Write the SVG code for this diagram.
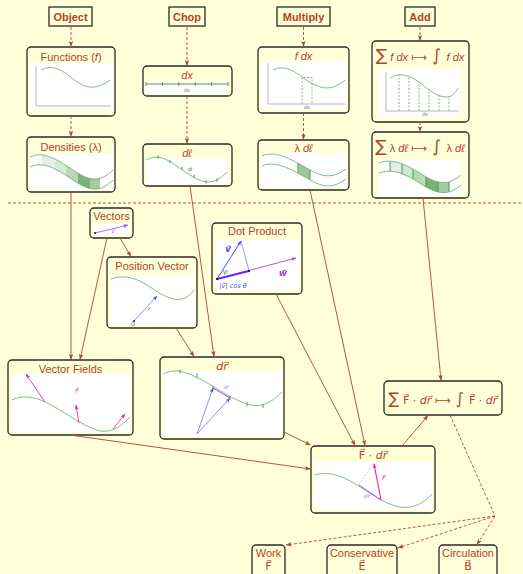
<svg xmlns="http://www.w3.org/2000/svg" width="523" height="574" viewBox="0 0 523 574">
<defs>
<style>
.t{fill:#b5412f;font-family:"Liberation Sans",Arial,sans-serif;font-size:11px;text-anchor:middle}
.h{fill:#b5412f;font-family:"Liberation Sans",Arial,sans-serif;font-size:11px;font-weight:bold;text-anchor:middle}
.m{font-family:"DejaVu Sans",sans-serif}
.v{font-family:"DejaVu Sans",sans-serif}
.hb{fill:#ffffd8;stroke:#2a2a2a;stroke-width:1.3}
.nb{fill:#ffffd8;stroke:#2a2a2a;stroke-width:1.3}
.w{fill:#ffffff}
.g{fill:none;stroke:#6aa86a;stroke-width:0.8}
.gd{fill:none;stroke:#3f8f3f;stroke-width:0.9}
.ax{fill:none;stroke:#b8b8b8;stroke-width:1}
.c{fill:none;stroke:#b5412f;stroke-width:0.9}
.cd{fill:none;stroke:#b5412f;stroke-width:0.9;stroke-dasharray:3 2}
.tiny{fill:#777;font-family:"DejaVu Sans",sans-serif;font-style:italic;font-size:5px;text-anchor:middle}
</style>
<marker id="ah" viewBox="0 0 8 6" refX="7.5" refY="3" markerWidth="6" markerHeight="4.5" orient="auto" markerUnits="userSpaceOnUse"><path d="M0,0 L8,3 L0,6 L2,3 z" fill="#b5412f"/></marker>
<marker id="ab" viewBox="0 0 8 6" refX="7.5" refY="3" markerWidth="5" markerHeight="4" orient="auto" markerUnits="userSpaceOnUse"><path d="M0,0 L8,3 L0,6 L2,3 z" fill="#4a4aff"/></marker>
<marker id="ap" viewBox="0 0 8 6" refX="7.5" refY="3" markerWidth="5" markerHeight="4" orient="auto" markerUnits="userSpaceOnUse"><path d="M0,0 L8,3 L0,6 L2,3 z" fill="#ee1199"/></marker>
<marker id="av" viewBox="0 0 8 6" refX="7.5" refY="3" markerWidth="5" markerHeight="4" orient="auto" markerUnits="userSpaceOnUse"><path d="M0,0 L8,3 L0,6 L2,3 z" fill="#9a40ff"/></marker>
<clipPath id="bandD"><path d="M30,157 C42,151 55,158 70,168 C85,178 97,186 113,170 L113,180 C97,196 85,188 70,178 C55,168 42,161 30,167 Z"/></clipPath>
<clipPath id="bandL"><path d="M262,156 C275,150 290,159 305,167 C318,175 330,181 346,169 L346,179 C330,191 318,185 305,177 C290,169 275,160 262,166 Z"/></clipPath>
<clipPath id="bandS"><path d="M379,163 C392,158 405,164 418,172 C432,181 445,189 461,175 L461,185 C445,199 432,191 418,182 C405,174 392,168 379,173 Z"/></clipPath>
</defs>
<rect x="0" y="0" width="523" height="574" fill="#ffffd8"/>

<!-- header nodes -->
<g id="object"><rect class="hb" x="49" y="7" width="43" height="19"/><text class="h" x="70.5" y="21">Object</text></g>
<g id="chop"><rect class="hb" x="169" y="7" width="36" height="19"/><text class="h" x="187" y="21">Chop</text></g>
<g id="multiply"><rect class="hb" x="277" y="7" width="53" height="19"/><text class="h" x="303.5" y="21">Multiply</text></g>
<g id="add"><rect class="hb" x="405" y="7" width="30" height="19"/><text class="h" x="420" y="21">Add</text></g>

<!-- Functions -->
<g id="functions">
<rect class="nb" x="27" y="47" width="88" height="69" rx="4"/>
<text class="t" x="71" y="61">Functions (<tspan font-style="italic">f</tspan>)</text>
<rect class="w" x="30" y="63" width="83" height="46"/>
<path class="ax" d="M36,66 V106 H111"/>
<path class="g" d="M41,70 C52,64 62,70 72,78 C82,86 92,93 110,80"/>
</g>

<!-- Densities -->
<g id="densities">
<rect class="nb" x="27" y="137" width="88" height="55" rx="4"/>
<text class="t" x="71" y="151">Densities (λ)</text>
<rect class="w" x="30" y="154" width="83" height="36"/>
<g clip-path="url(#bandD)">
<rect x="42" y="140" width="13" height="60" fill="#e4eee4"/>
<rect x="55" y="140" width="11" height="60" fill="#d6e8d6"/>
<rect x="66" y="140" width="12" height="60" fill="#b9d8b9"/>
<rect x="78" y="140" width="12" height="60" fill="#78b478"/>
<rect x="90" y="140" width="10" height="60" fill="#a2cca2"/>
</g>
<path class="g" d="M30,157 C42,151 55,158 70,168 C85,178 97,186 113,170"/>
<path class="g" d="M30,167 C42,161 55,168 70,178 C85,188 97,196 113,180"/>
</g>

<!-- dx -->
<g id="dx">
<rect class="nb" x="143" y="66" width="89" height="30" rx="4"/>
<text class="t" x="187" y="79" font-style="italic">dx</text>
<rect class="w" x="145" y="81" width="83" height="13"/>
<path class="gd" d="M146,84 H228 M146,82 V86 M162.4,82 V86 M178.8,82 V86 M195.2,82 V86 M211.6,82 V86 M228,82 V86"/>
<text class="tiny" x="187" y="92">dx</text>
</g>

<!-- dl -->
<g id="dl">
<rect class="nb" x="143" y="144" width="89" height="42" rx="4"/>
<text class="t" x="187" y="157" font-style="italic">dℓ</text>
<rect class="w" x="146" y="158" width="81" height="26"/>
<path class="g" d="M146,160 C152,157 158,156 165,159 C178,165 195,182 208,182 C216,182 222,177 227,172"/>
<path class="gd" d="M158,155.5 V159 M170,159.5 V163 M182,166.5 V170 M194,174.5 V178 M206,180 V183.5 M217,178.5 V182"/>
<text class="tiny" x="190" y="171">dℓ</text>
</g>

<!-- f dx -->
<g id="fdx">
<rect class="nb" x="258" y="47" width="91" height="66" rx="4"/>
<text class="t" x="303.5" y="60" font-style="italic">f dx</text>
<rect class="w" x="262" y="61" width="84" height="49"/>
<path class="ax" d="M268,63 V104 H345"/>
<path class="g" d="M273,70 C285,64 295,72 305,79 C318,88 330,93 345,80"/>
<path class="g" stroke-dasharray="2 1.5" d="M302,104 V77.5 H312 V104"/>
<text class="tiny" x="307" y="109">dx</text>
</g>

<!-- lambda dl -->
<g id="ldl">
<rect class="nb" x="258" y="140" width="91" height="50" rx="4"/>
<text class="t" x="303.5" y="152"><tspan>λ</tspan> <tspan font-style="italic">dℓ</tspan></text>
<rect class="w" x="262" y="153" width="84" height="35"/>
<g clip-path="url(#bandL)"><rect x="298" y="140" width="12" height="60" fill="#9ec89e"/></g>
<path class="gd" d="M298,160 V173 M310,165 V180" clip-path="url(#bandL)"/>
<path class="g" d="M262,156 C275,150 290,159 305,167 C318,175 330,181 346,169"/>
<path class="g" d="M262,166 C275,160 290,169 305,177 C318,185 330,191 346,179"/>
</g>

<!-- sum f dx -->
<g id="sumfdx">
<rect class="nb" x="372" y="41" width="97" height="81" rx="4"/>
<text class="t" x="420" y="61"><tspan class="m" font-size="17">∑</tspan><tspan font-style="italic"> f dx </tspan><tspan class="m">⟼</tspan><tspan class="m" font-size="17"> ∫ </tspan><tspan font-style="italic">f dx</tspan></text>
<rect class="w" x="379" y="69" width="82" height="48"/>
<path class="ax" d="M386,72 V111 H459"/>
<path class="g" d="M390,78 C401,71 412,76 424,86 C434,94 440,97 447,97 C452,97 455,93 458,88"/>
<path class="g" stroke-dasharray="2 1.5" d="M399,111 V75 M409,111 V77 M419,111 V82 M429,111 V89 M439,111 V95 M449,111 V96"/>
<text class="tiny" x="425" y="116">dx</text>
</g>

<!-- sum lambda dl -->
<g id="sumldl">
<rect class="nb" x="372" y="132" width="97" height="66" rx="4"/>
<text class="t" x="420" y="152"><tspan class="m" font-size="17">∑</tspan> λ <tspan font-style="italic">dℓ </tspan><tspan class="m">⟼</tspan><tspan class="m" font-size="17"> ∫ </tspan>λ <tspan font-style="italic">dℓ</tspan></text>
<rect class="w" x="379" y="160" width="82" height="36"/>
<g clip-path="url(#bandS)">
<rect x="390" y="150" width="12" height="50" fill="#e4eee4"/>
<rect x="402" y="150" width="11" height="50" fill="#d2e6d2"/>
<rect x="413" y="150" width="13" height="50" fill="#b9d8b9"/>
<rect x="426" y="150" width="12" height="50" fill="#78b478"/>
<rect x="438" y="150" width="11" height="50" fill="#a2cca2"/>
<path class="gd" d="M390,150 V200 M402,150 V200 M413,150 V200 M426,150 V200 M438,150 V200 M449,150 V200"/>
</g>
<path class="g" d="M379,163 C392,158 405,164 418,172 C432,181 445,189 461,175"/>
<path class="g" d="M379,173 C392,168 405,174 418,182 C432,191 445,199 461,185"/>
</g>

<!-- divider -->
<path class="cd" d="M8,203 H523"/>

<!-- Vectors -->
<g id="vectors">
<rect class="nb" x="90" y="208" width="43" height="30" rx="4"/>
<text class="t" x="111.5" y="220">Vectors</text>
<rect class="w" x="94" y="224" width="35" height="10"/>
<path d="M95,233 L128,225" stroke="#9a40ff" stroke-width="0.8" fill="none" marker-end="url(#av)"/>
<circle cx="95" cy="233" r="0.9" fill="#000"/>
<text class="tiny" x="113" y="233" style="fill:#9a40ff">v⃗</text>
</g>

<!-- Position vector -->
<g id="position">
<rect class="nb" x="107" y="257" width="90" height="71" rx="4"/>
<text class="t" x="152" y="270">Position Vector</text>
<rect class="w" x="111" y="276" width="83" height="49"/>
<path class="g" d="M111,279 C124,274 137,278 150,287 C162,295 172,301 182,299 C187,298 191,294 194,290"/>
<path d="M134,321 L157,296" stroke="#5a5aff" stroke-width="0.7" fill="none" marker-end="url(#ab)"/>
<circle cx="134" cy="321" r="0.9" fill="#000"/>
<text class="tiny" x="149" y="311" style="fill:#5a5aff">r⃗</text>
<text class="tiny" x="133" y="326" style="fill:#555;font-style:normal">O</text>
</g>

<!-- Dot product -->
<g id="dotproduct">
<rect class="nb" x="212" y="223" width="90" height="71" rx="4"/>
<text class="t" x="257" y="235">Dot Product</text>
<rect class="w" x="216" y="240" width="82" height="50"/>
<path d="M217,279 L296,258" stroke="#9a40ff" stroke-width="0.9" fill="none" marker-end="url(#av)"/>
<path d="M217,279 L249,271" stroke="#6a2aff" stroke-width="2" fill="none"/>
<path d="M241,241 L249,271" stroke="#5a5aff" stroke-width="0.6" fill="none"/>
<path d="M217,279 L241,241" stroke="#4a4aff" stroke-width="1" fill="none" marker-end="url(#ab)"/>
<circle cx="217" cy="279" r="1.1" fill="#000"/>
<circle cx="249" cy="271" r="0.9" fill="#000"/>
<path d="M223,270 A8,8 0 0,1 224.5,275" stroke="#3f8f3f" stroke-width="0.6" fill="none"/>
<text x="228" y="252" font-family="DejaVu Sans,sans-serif" font-style="italic" font-weight="bold" font-size="9" fill="#4a4aff" text-anchor="middle">v⃗</text>
<text x="283" y="276" font-family="DejaVu Sans,sans-serif" font-style="italic" font-weight="bold" font-size="9" fill="#9a40ff" text-anchor="middle">w⃗</text>
<text x="226" y="274" font-family="DejaVu Serif,serif" font-style="italic" font-size="5.5" fill="#3f8f3f" text-anchor="middle">θ</text>
<text x="233" y="287.5" font-family="DejaVu Sans,sans-serif" font-style="italic" font-size="6.5" fill="#4a4aff" text-anchor="middle">|v⃗| cos θ</text>
</g>

<!-- Vector Fields -->
<g id="vectorfields">
<rect class="nb" x="8" y="360" width="125" height="75" rx="4"/>
<text class="t" x="70.5" y="373">Vector Fields</text>
<rect class="w" x="12" y="374" width="118" height="58"/>
<path class="g" d="M12,400 C20,396 28,396 38,399 C58,406 80,426 100,431 C112,433 122,426 130,417"/>
<path d="M45,402 L26,374" stroke="#ee1199" stroke-width="0.8" fill="none" marker-end="url(#ap)"/>
<path d="M79,423 L76,405" stroke="#ee1199" stroke-width="0.8" fill="none" marker-end="url(#ap)"/>
<path d="M113,429 L125,414" stroke="#ee1199" stroke-width="0.8" fill="none" marker-end="url(#ap)"/>
<text class="tiny" x="77" y="393" style="fill:#ee1199;font-size:6px">F⃗</text>
</g>

<!-- dr -->
<g id="dr">
<rect class="nb" x="160" y="357" width="124" height="82" rx="4"/>
<text class="t" x="222" y="370" font-style="italic"><tspan class="v">dr⃗</tspan></text>
<rect class="w" x="163" y="371" width="119" height="65"/>
<path class="g" d="M163,374 C170,371 176,370 183,372 C205,378 230,400 250,405 C262,408 272,402 282,392"/>
<path class="gd" d="M180,369.5 V373.5 M197,373.5 V377.5 M213,386 V390 M230,396 V400 M247,402.5 V406.5 M263,404 V408"/>
<path d="M197,434 L213,388" stroke="#5a5aff" stroke-width="0.7" fill="none" marker-end="url(#ab)"/>
<path d="M197,434 L230,398" stroke="#5a5aff" stroke-width="0.7" fill="none" marker-end="url(#ab)"/>
<path d="M213,388 L230,398" stroke="#9a40ff" stroke-width="1" fill="none"/>
<text class="tiny" x="226" y="389" style="fill:#b07cff">dr⃗</text>
</g>

<!-- sum F dr -->
<g id="sumfdr">
<rect class="nb" x="384" y="381" width="118" height="34" rx="4"/>
<text class="t" x="443" y="404" font-size="10.5"><tspan class="m" font-size="16">∑</tspan><tspan class="v"> F⃗ · </tspan><tspan class="v" font-style="italic">dr⃗</tspan><tspan class="m"> ⟼</tspan><tspan class="m" font-size="16"> ∫ </tspan><tspan class="v">F⃗ · </tspan><tspan class="v" font-style="italic">dr⃗</tspan></text>
</g>

<!-- F dot dr -->
<g id="fdotdr">
<rect class="nb" x="311" y="446" width="124" height="67" rx="4"/>
<text class="t" x="373" y="459"><tspan class="v">F⃗ · </tspan><tspan class="v" font-style="italic">dr⃗</tspan></text>
<rect class="w" x="315" y="462" width="117" height="48"/>
<path class="g" d="M315,475 C322,473 328,473 336,475 C355,480 375,500 395,506 C410,510 422,505 432,494"/>
<path d="M359,485 L374,463" stroke="#ee99dd" stroke-width="0.7" stroke-dasharray="2 1.5" fill="none"/>
<path d="M381,500 L374,464" stroke="#ee1199" stroke-width="1" fill="none" marker-end="url(#ap)"/>
<path d="M359,485 L381,500" stroke="#8a5aff" stroke-width="1" fill="none"/>
<text class="tiny" x="384" y="480" style="fill:#ee1199;font-size:6px">F⃗</text>
<text class="tiny" x="367" y="498" style="fill:#b07cff;font-size:6px">dr⃗</text>
</g>

<!-- bottom nodes -->
<g id="work"><rect class="nb" x="252" y="545" width="33" height="40" rx="4"/><text class="t" x="268.5" y="557" font-size="10.5">Work</text><text class="t v" x="268.5" y="570" font-size="10.5">F⃗</text></g>
<g id="conservative"><rect class="nb" x="327" y="545" width="70" height="40" rx="4"/><text class="t" x="362" y="557" font-size="10.5">Conservative</text><text class="t v" x="362" y="570" font-size="10.5">E⃗</text></g>
<g id="circulation"><rect class="nb" x="439" y="545" width="58" height="40" rx="4"/><text class="t" x="468" y="557" font-size="10.5">Circulation</text><text class="t v" x="468" y="570" font-size="10.5">B⃗</text></g>

<!-- connectors -->
<g id="connectors">
<path class="cd" d="M71,27 V46.5" marker-end="url(#ah)"/>
<path class="cd" d="M187,27 V65.5" marker-end="url(#ah)"/>
<path class="cd" d="M303.5,27 V46.5" marker-end="url(#ah)"/>
<path class="cd" d="M420,27 V40.5" marker-end="url(#ah)"/>
<path class="cd" d="M71,116 V136.5" marker-end="url(#ah)"/>
<path class="cd" d="M187,96 V143.5" marker-end="url(#ah)"/>
<path class="cd" d="M303.5,113 V139.5" marker-end="url(#ah)"/>
<path class="cd" d="M420,122 V131.5" marker-end="url(#ah)"/>
<path class="c" d="M71,192 V359.5" marker-end="url(#ah)"/>
<path class="c" d="M107,238 L80,359.5" marker-end="url(#ah)"/>
<path class="c" d="M120,238 L131,256.5" marker-end="url(#ah)"/>
<path class="c" d="M190,186 L214,356.5" marker-end="url(#ah)"/>
<path class="c" d="M176,328 L194,356.5" marker-end="url(#ah)"/>
<path class="c" d="M276,294 L355,445.5" marker-end="url(#ah)"/>
<path class="c" d="M310,190 L365,445.5" marker-end="url(#ah)"/>
<path class="c" d="M423,198 L441,380.5" marker-end="url(#ah)"/>
<path class="c" d="M284,432 L310.5,445" marker-end="url(#ah)"/>
<path class="c" d="M70,435 L310.5,469" marker-end="url(#ah)"/>
<path class="c" d="M402,446 L428,415.5" marker-end="url(#ah)"/>
<path class="cd" d="M450,415 L495,516"/>
<path class="cd" d="M495,516 L286,545" marker-end="url(#ah)"/>
<path class="cd" d="M495,516 L398,548" marker-end="url(#ah)"/>
<path class="cd" d="M495,516 L477,544.5" marker-end="url(#ah)"/>
</g>
</svg>
